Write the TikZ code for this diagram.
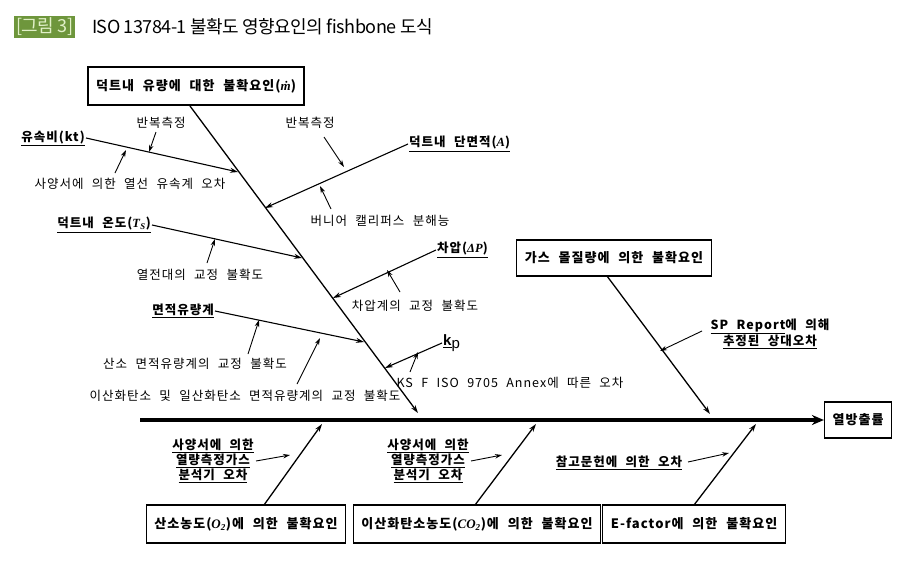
\documentclass[tikz,border=0pt]{standalone}
\usepackage{fontspec}
\setmainfont{Noto Sans CJK KR}[LetterSpace=8,WordSpace=2.2]
\newfontfamily\ttlfont{Noto Sans CJK KR}[LetterSpace=-3]
\newfontfamily\lib{Liberation Serif}
\newfontfamily\lsans{Liberation Sans}
\usetikzlibrary{arrows.meta}
\newcommand{\mth}[1]{{\lib\textit{\textbf{#1}}}}
\begin{document}
\begin{tikzpicture}[x=1pt,y=-1pt,
  lbl/.style={inner sep=1pt,font=\fontsize{12.5}{15}\selectfont},
  bl/.style={inner sep=1pt,font=\fontsize{12.5}{15}\selectfont\bfseries},
  cbox/.style={draw,line width=1.2pt,inner xsep=8pt,minimum height=36pt,font=\fontsize{13}{15}\selectfont\bfseries},
  bone/.style={line width=1.3pt,-{Stealth[length=8pt,width=5pt]}},
  sarr/.style={line width=0.9pt,-{Stealth[length=7pt,width=4.5pt]}}]
\useasboundingbox (0,0) rectangle (919,562);
% title
\node[fill={rgb,255:red,110;green,150;blue,60},text={rgb,255:red,225;green,240;blue,200},inner sep=2pt,font=\fontsize{18}{19}\selectfont\ttlfont,anchor=west] (tag) at (14,27) {[그림 3]};
\node[anchor=west,inner sep=0pt,font=\fontsize{18}{19}\selectfont\ttlfont] (title) at (92,27) {ISO 13784-1 불확도 영향요인의 fishbone 도식};
% spine
\node[cbox] (heat) at (858,420) {열방출률};
\coordinate (s0) at (140,420);
\draw[line width=4pt,-{Stealth[length=12pt,width=10pt]}] (s0) -- (heat.west);
% top boxes
\node[cbox,minimum height=38pt] (duct) at (196,86) {덕트내 유량에 대한 불확요인(\mth{ṁ})};
\coordinate (d1) at (418,413);
\draw[bone] (190,106) -- (d1);
\node[cbox] (gas) at (614,258) {가스 몰질량에 의한 불확요인};
\coordinate (g1) at (710,414);
\draw[bone] (607,276) -- (g1);
% bottom boxes
\node[cbox,minimum height=38pt] (o2) at (246,524) {산소농도(\mth{O}\textsubscript{\mth{2}})에 의한 불확요인};
\node[cbox,minimum height=38pt] (co2) at (477,524) {이산화탄소농도(\mth{CO}\textsubscript{\mth{2}})에 의한 불확요인};
\node[cbox,minimum height=38pt] (ef) at (694,524) {E-factor에 의한 불확요인};
\coordinate (o2e) at (322,424); \coordinate (co2e) at (536,424); \coordinate (efe) at (756,424);
\draw[bone] (264,505) -- (o2e);
\draw[bone] (475,505) -- (co2e);
\draw[bone] (694,505) -- (efe);
% kt
\node[bl,anchor=east] (kt) at (86,138) {\underline{유속비(kt)}};
\coordinate (kte) at (238,172);
\draw[bone,line width=1.1pt] (kt.east) -- (kte);
\node[lbl] (r1) at (161,123) {반복측정};
\draw[sarr] (156,132) -- (149,152);
\node[lbl] (h1) at (130,184) {사양서에 의한 열선 유속계 오차};
\draw[sarr] (115,173) -- (126,150);
% area
\node[bl,anchor=west] (ar) at (408,144) {\underline{덕트내 단면적(\mth{A})}};
\coordinate (are) at (265,208);
\draw[bone,line width=1.1pt] (ar.west) -- (are);
\node[lbl] (r2) at (310,123) {반복측정};
\draw[sarr] (324,137) -- (344,167);
\node[lbl] (vc) at (380,221) {버니어 캘리퍼스 분해능};
\draw[sarr] (331,209) -- (320,186);
% temp
\node[bl,anchor=east] (ts) at (152,225) {\underline{덕트내 온도(\mth{T}\textsubscript{\mth{S}})}};
\coordinate (tse) at (302,258);
\draw[bone,line width=1.1pt] (ts.east) -- (tse);
\node[lbl] (tc) at (200,275) {열전대의 교정 불확도};
\draw[sarr] (207,263) -- (215,239);
% dp
\node[bl,anchor=west] (dp) at (436,250) {\underline{차압(\mth{ΔP})}};
\coordinate (dpe) at (333,298);
\draw[bone,line width=1.1pt] (dp.west) -- (dpe);
\node[lbl] (dpc) at (415,306) {차압계의 교정 불확도};
\draw[sarr] (400,292) -- (387,270);
% flow meter
\node[bl,anchor=east] (fm) at (215,311) {\underline{면적유량계}};
\coordinate (fme) at (364,342);
\draw[bone,line width=1.1pt] (fm.east) -- (fme);
\node[lbl] (oc) at (195,364) {산소 면적유량계의 교정 불확도};
\draw[sarr] (248,354) -- (259,320);
\node[lbl] (cc) at (245,396) {이산화탄소 및 일산화탄소 면적유량계의 교정 불확도};
\draw[sarr] (297,384) -- (320,338);
% kp
\node[inner sep=1pt,anchor=west,font=\fontsize{15}{16}\selectfont] (kp) at (442,343) {{\lsans\underline{\textbf{k}}\raisebox{-3pt}{p}}};
\coordinate (kpe) at (385,368);
\draw[bone,line width=1.1pt] (kp.west) -- (kpe);
\node[lbl] (ks) at (510,383) {KS F ISO 9705 Annex에 따른 오차};
\draw[sarr] (410,372) -- (418,352);
% SP
\node[bl,align=center] (sp) at (770,334) {\underline{SP Report}에 의해\\\underline{추정된 상대오차}};
\draw[sarr] (702,331) -- (660,351);
% bottom labels
\node[bl,align=center] (a1) at (213,461) {\underline{사양서에 의한}\\\underline{열량측정가스}\\\underline{분석기 오차}};
\draw[sarr] (256,461) -- (290,455);
\node[bl,align=center] (a2) at (428,461) {\underline{사양서에 의한}\\\underline{열량측정가스}\\\underline{분석기 오차}};
\draw[sarr] (471,461) -- (502,455);
\node[bl] (a3) at (619,463) {\underline{참고문헌에 의한 오차}};
\draw[sarr] (688,462) -- (729,453);
\end{tikzpicture}
\end{document}
